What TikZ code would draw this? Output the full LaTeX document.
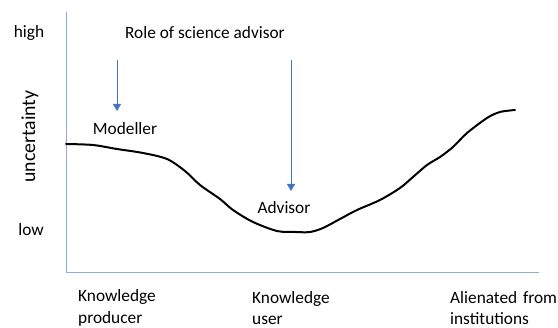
\documentclass[tikz,border=0pt]{standalone}
\usepackage{fontspec}
\setmainfont{Carlito}
\usetikzlibrary{arrows.meta}
\definecolor{axisblue}{HTML}{8FAADC}
\definecolor{arrowblue}{HTML}{4472C4}
\begin{document}
\begin{tikzpicture}[x=1pt,y=-1pt,
  lbl/.style={font=\fontsize{17.3}{21.5}\selectfont, inner sep=0pt},
  lblL/.style={lbl, anchor=west, align=left},
  axisline/.style={draw=axisblue, line width=1pt},
  rolearrow/.style={draw=arrowblue, line width=0.8pt, -{Triangle[length=7pt,width=8pt]}},
  curve/.style={draw=black, line width=2pt, line cap=round, line join=round}]
\useasboundingbox (0,0) rectangle (558,328);
\coordinate (ytop) at (66,12);
\coordinate (orig) at (66,272.5);
\coordinate (xend) at (539,272.5);
\draw[axisline] (ytop) -- (orig) -- (xend);
\node[lbl] (high) at (29,33) {high};
\node[lbl] (low) at (31,230) {low};
\node[lbl, font=\fontsize{19.8}{24}\selectfont, rotate=90] (unc) at (30,136.5) {uncertainty};
\node[lbl] (role) at (205,33) {Role of science advisor};
\node[lbl] (mod) at (125,129) {Modeller};
\node[lbl] (adv) at (284,208) {Advisor};
\coordinate (a1s) at (117,60);
\coordinate (a1e) at (117,111);
\coordinate (a2s) at (291,60);
\coordinate (a2e) at (291,191);
\draw[rolearrow] (a1s) -- (a1e);
\draw[rolearrow] (a2s) -- (a2e);
\node[lblL, text width=140pt] (kp) at (78,308) {Knowledge\\producer};
\node[lblL, text width=140pt] (ku) at (252,308) {Knowledge\\user};
\node[lblL, text width=140pt] (al) at (450,308) {Alienated from\\institutions};
\draw[curve] plot[smooth, tension=0.5] coordinates {
 (66,144) (93,145) (117,149) (143,153) (167,159) (185,171) (200,185)
 (220,199) (233,210) (253,222) (277,231) (295,232) (310,232) (323,228) (340,219)
 (357,210) (380,200) (400,188) (413,177) (427,165) (440,157) (453,147) (467,133)
 (487,118) (500,112) (515,110)};
\end{tikzpicture}
\end{document}
